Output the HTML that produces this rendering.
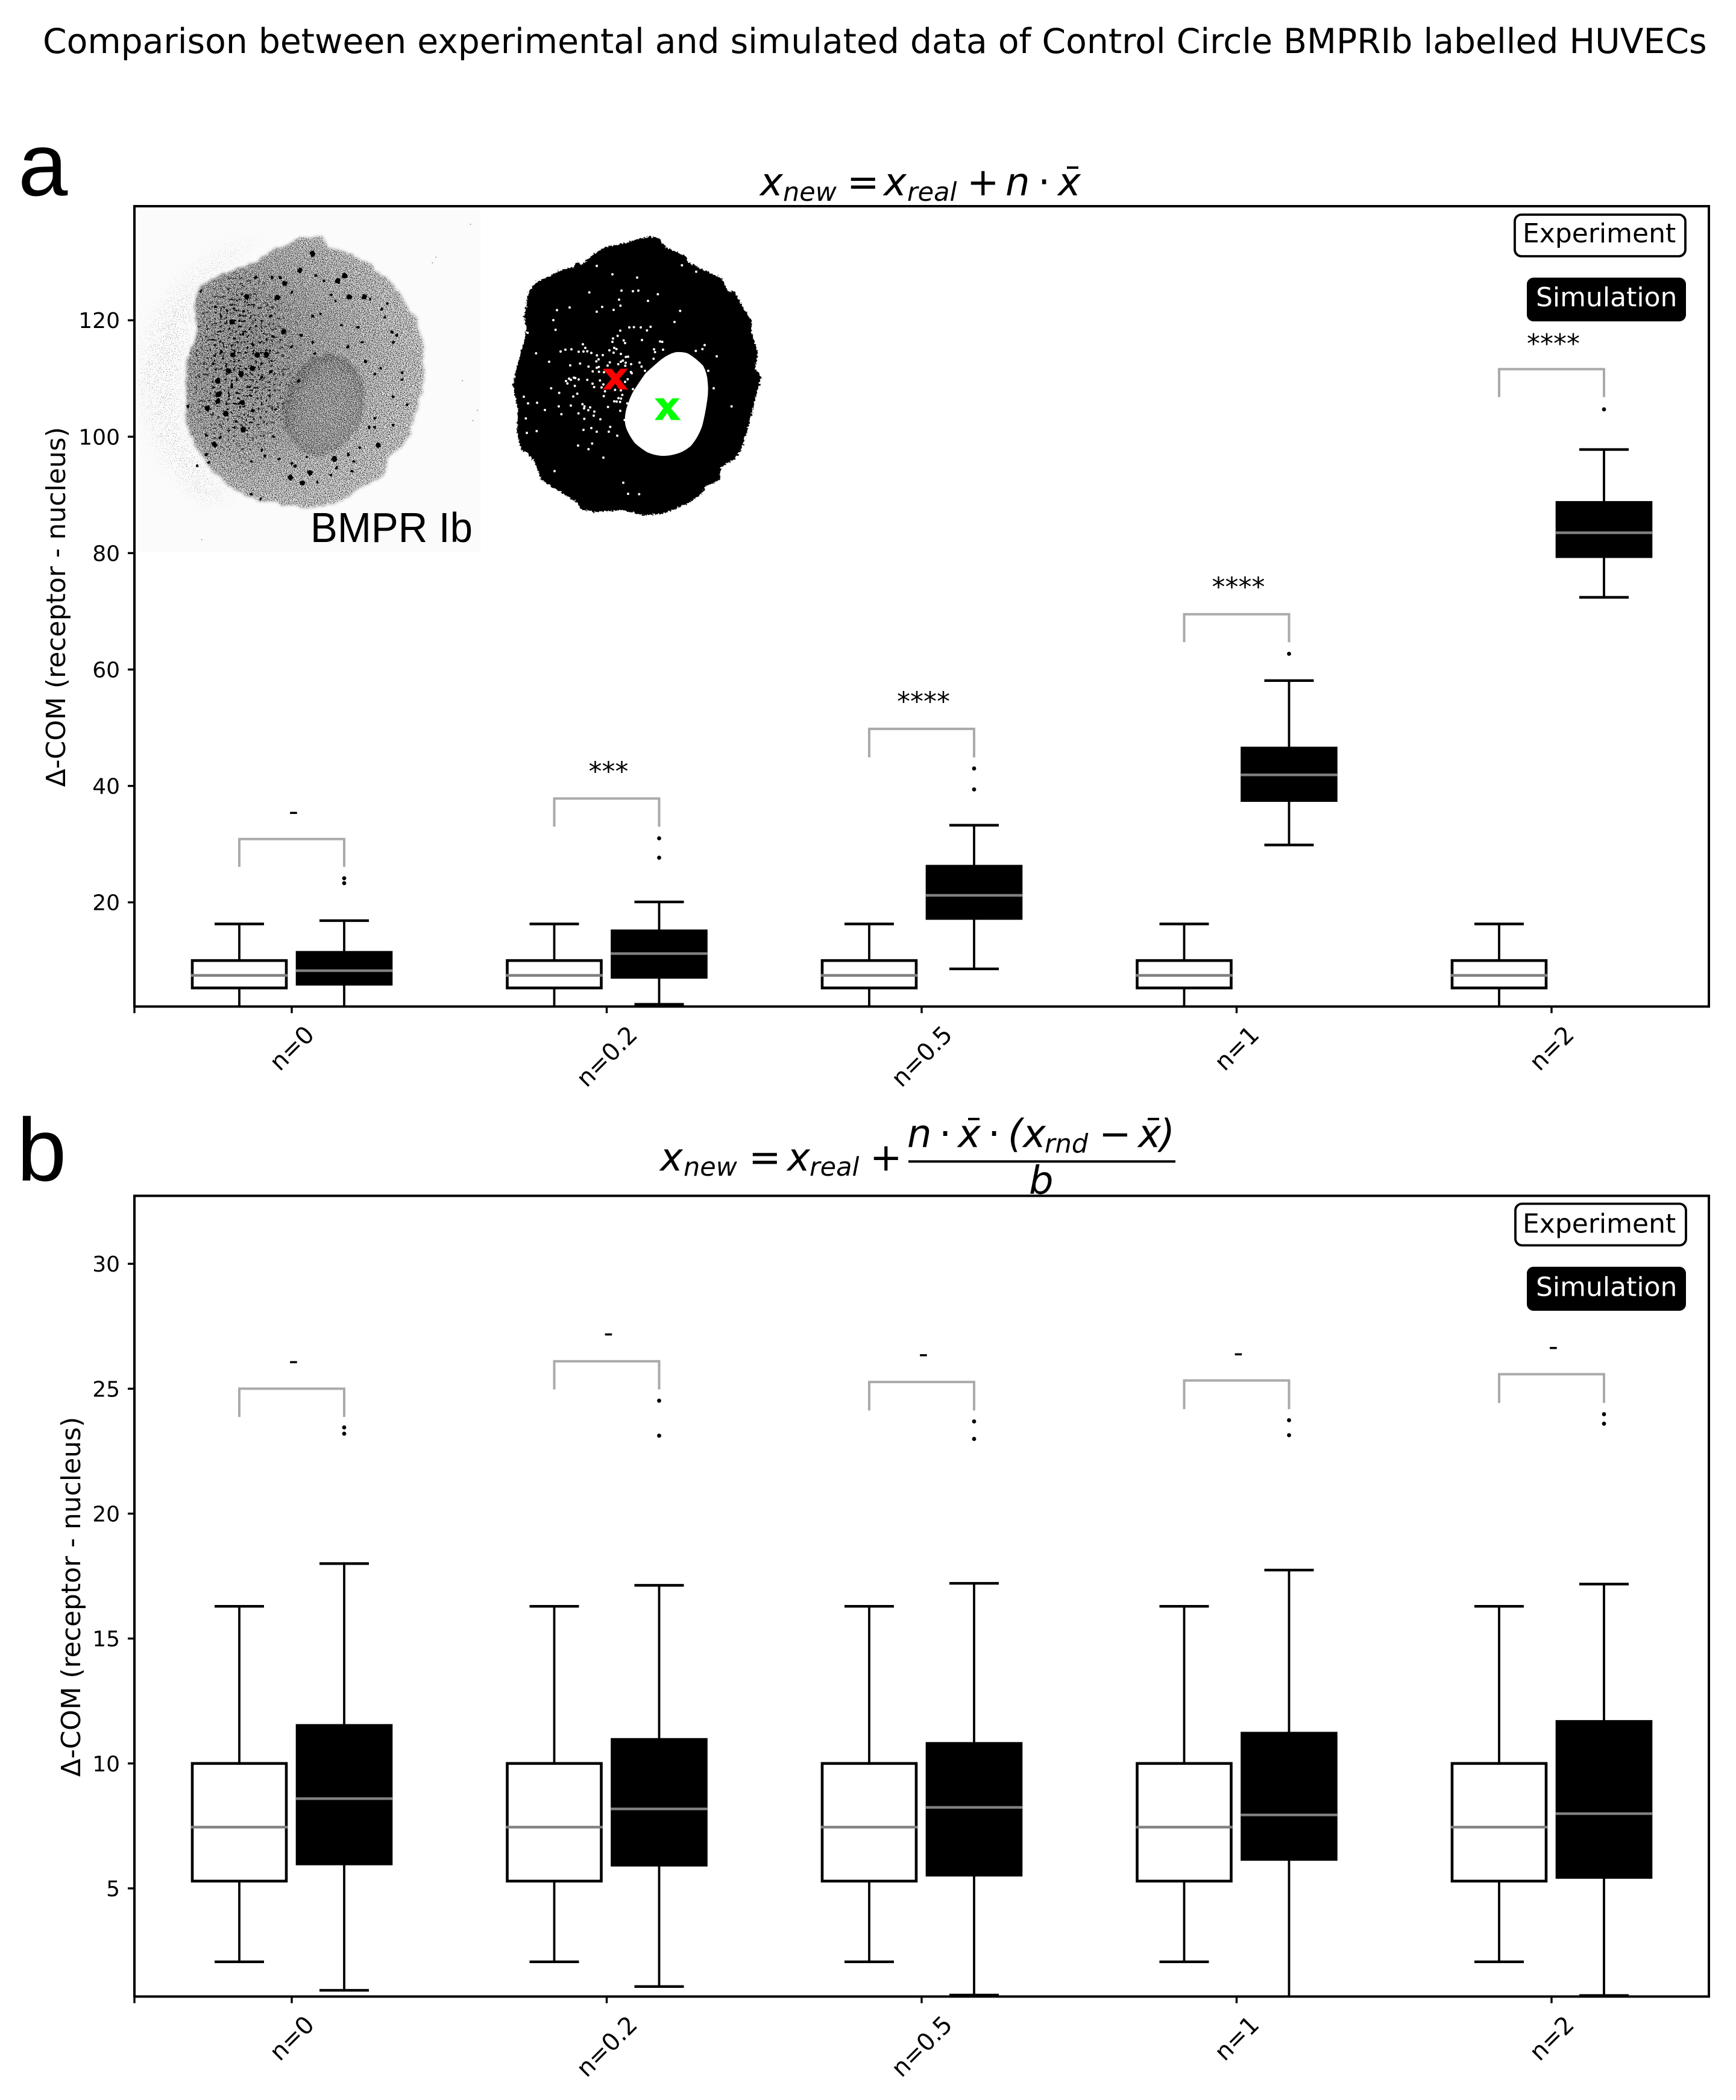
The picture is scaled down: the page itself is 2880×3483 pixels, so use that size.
<!DOCTYPE html>
<html lang="en">
<head>
<meta charset="utf-8">
<title>Comparison between experimental and simulated data</title>
<style>
html,body{margin:0;padding:0;background:#fff}
svg{display:block}
text{font-family:"DejaVu Sans","Liberation Sans",sans-serif;fill:#000}
.m{font-style:italic;font-size:64px}
.s{font-style:italic;font-size:43px}
.r{font-size:64px}
.lg{font-size:44px}
</style>
</head>
<body>
<svg id="figure" xmlns="http://www.w3.org/2000/svg" width="2880" height="3483" viewBox="0 0 2880 3483">
<defs>
<radialGradient id="cellTone" gradientUnits="userSpaceOnUse" cx="480" cy="640" r="850">
<stop offset="0" stop-color="#9c9c9c"/><stop offset="0.4" stop-color="#b8b8b8"/><stop offset="0.75" stop-color="#dedede"/><stop offset="1" stop-color="#f0f0f0"/>
</radialGradient>
<radialGradient id="nucTone" gradientUnits="objectBoundingBox" cx="0.55" cy="0.55" r="0.55">
<stop offset="0" stop-color="#b0b0b0"/><stop offset="0.7" stop-color="#a2a2a2"/><stop offset="1" stop-color="#707070"/>
</radialGradient>
<filter id="grain" x="-5%" y="-5%" width="110%" height="110%" color-interpolation-filters="sRGB">
<feTurbulence type="fractalNoise" baseFrequency="0.025" numOctaves="3" seed="7" result="w"/>
<feDisplacementMap in="SourceGraphic" in2="w" scale="26" xChannelSelector="R" yChannelSelector="G" result="shape"/>
<feGaussianBlur in="shape" stdDeviation="6" result="b"/>
<feTurbulence type="fractalNoise" baseFrequency="0.3" numOctaves="2" seed="4" result="n"/>
<feColorMatrix in="n" type="matrix" values="0 0 0 0 0  0 0 0 0 0  0 0 0 0 0  4.2 0 0 0 -1.95" result="d"/>
<feComposite in="d" in2="b" operator="in" result="dc"/>
<feColorMatrix in="n" type="matrix" values="0 0 0 0 1  0 0 0 0 1  0 0 0 0 1  0 5 0 0 -2.3" result="l"/>
<feComposite in="l" in2="b" operator="in" result="lc"/>
<feMerge><feMergeNode in="b"/><feMergeNode in="lc"/><feMergeNode in="dc"/></feMerge>
</filter>
<filter id="clumps" x="-70%" y="-70%" width="240%" height="240%" color-interpolation-filters="sRGB">
<feGaussianBlur in="SourceAlpha" stdDeviation="70" result="b"/>
<feTurbulence type="fractalNoise" baseFrequency="0.085" numOctaves="3" seed="11" result="n"/>
<feColorMatrix in="n" type="matrix" values="0 0 0 0 0  0 0 0 0 0  0 0 0 0 0  15 0 0 0 -9.3" result="d"/>
<feComposite in="d" in2="b" operator="in"/>
</filter>
<filter id="spray" x="-30%" y="-30%" width="160%" height="160%" color-interpolation-filters="sRGB">
<feGaussianBlur in="SourceAlpha" stdDeviation="40" result="b"/>
<feTurbulence type="fractalNoise" baseFrequency="0.3" numOctaves="1" seed="9" result="n"/>
<feColorMatrix in="n" type="matrix" values="0 0 0 0 0.3  0 0 0 0 0.3  0 0 0 0 0.3  14 0 0 0 -9" result="d"/>
<feComposite in="d" in2="b" operator="in"/>
</filter>
<filter id="rough" x="-5%" y="-5%" width="110%" height="110%">
<feTurbulence type="fractalNoise" baseFrequency="0.09" numOctaves="2" seed="5" result="w"/>
<feDisplacementMap in="SourceGraphic" in2="w" scale="12" xChannelSelector="R" yChannelSelector="G"/>
</filter>
<filter id="jag" x="-5%" y="-5%" width="110%" height="110%">
<feTurbulence type="fractalNoise" baseFrequency="0.1" numOctaves="3" seed="2" result="w"/>
<feDisplacementMap in="SourceGraphic" in2="w" scale="22" xChannelSelector="R" yChannelSelector="G"/>
</filter>
<clipPath id="clipA"><rect x="223" y="342" width="2612" height="1327.4"/></clipPath>
<clipPath id="clipB"><rect x="223" y="1983.4" width="2612" height="1328"/></clipPath>
<clipPath id="cellClip"><path d="M820 135L850 185L950 215L1050 280L1130 345L1190 440L1235 520L1260 630L1265 740L1240 880L1205 1000L1170 1060L1100 1130L1095 1190L1000 1240L900 1310L780 1335L640 1320L500 1290L400 1220L320 1140L270 1050L230 960L235 800L235 680L280 570L270 430L290 360L400 300L520 260L600 205L720 150Z"/></clipPath>
</defs>
<rect width="2880" height="3483" fill="#fff"/>

<text x="71" y="88" font-size="56.75">Comparison between experimental and simulated data of Control Circle BMPRⅠb labelled HUVECs</text>
<text x="30" y="324" font-size="148" style='font-family:"Liberation Sans",sans-serif'>a</text>
<text x="28" y="1958" font-size="148" style='font-family:"Liberation Sans",sans-serif'>b</text>

<!-- Panel a title -->
<g>
<text class="m" x="1261" y="324">x</text><text class="s" x="1299" y="333">new</text>
<text class="r" x="1405" y="324">=</text>
<text class="m" x="1466" y="324">x</text><text class="s" x="1505" y="333">real</text>
<text class="r" x="1604" y="324">+</text>
<text class="m" x="1668" y="324">n</text>
<text class="r" x="1722" y="324">·</text>
<text class="m" x="1755" y="324">x</text>
<rect x="1770" y="276" width="19" height="4"/>
</g>

<!-- Panel b title -->
<g>
<text class="m" x="1095" y="1941.5">x</text><text class="s" x="1134" y="1950">new</text>
<text class="r" x="1242" y="1941.5">=</text>
<text class="m" x="1306" y="1941.5">x</text><text class="s" x="1343" y="1950">real</text>
<text class="r" x="1443" y="1941.5">+</text>
<text class="m" x="1505" y="1902.3">n</text>
<text class="r" x="1558" y="1902.3">·</text>
<text class="m" x="1589" y="1902.3">x</text><rect x="1606" y="1854" width="19" height="4"/>
<text class="r" x="1639" y="1902.3">·</text>
<text class="m" x="1672" y="1902.3">(</text>
<text class="m" x="1697" y="1902.3">x</text><text class="s" x="1733" y="1911.5">rnd</text>
<text class="r" x="1823" y="1902.3">−</text>
<text class="m" x="1888" y="1902.3">x</text><rect x="1904" y="1854" width="19" height="4"/>
<text class="m" x="1924" y="1902.3">)</text>
<rect x="1507" y="1924.4" width="443" height="4"/>
<text class="m" x="1707" y="1980">b</text>
</g>

<!-- Microscopy inset -->
<svg x="220" y="340" width="600" height="590" viewBox="0 0 1568 1568" preserveAspectRatio="none">
<rect x="22" y="22" width="1486" height="1508" fill="#fbfbfb"/>
<path filter="url(#spray)" fill="#000" d="M40 760Q60 330 560 130L420 260L280 360L250 560L215 760L220 1000L300 1130L420 1300L300 1300Q60 1100 40 760Z"/>
<g filter="url(#grain)">
<path fill="url(#cellTone)" d="M820 135L850 185L950 215L1050 280L1130 345L1190 440L1235 520L1260 630L1265 740L1240 880L1205 1000L1170 1060L1100 1130L1095 1190L1000 1240L900 1310L780 1335L640 1320L500 1290L400 1220L320 1140L270 1050L230 960L235 800L235 680L280 570L270 430L290 360L400 300L520 260L600 205L720 150Z"/>
<ellipse cx="830" cy="880" rx="172" ry="226" transform="rotate(14 830 880)" fill="url(#nucTone)"/>
</g>
<g clip-path="url(#cellClip)">
<ellipse filter="url(#clumps)" cx="470" cy="700" rx="210" ry="400" fill="#000"/>
</g>
<g filter="url(#rough)">
<path fill="none" stroke="#000" stroke-width="24" stroke-linecap="round" d="M725 288h0M660 345h0M890 335h0M920 312h0M495 405h0M628 408h0M940 405h0M1005 405h0M655 560h0M540 660h0M520 720h0M475 870h0M370 775h0M372 835h0M370 865h0M405 920h0M325 895h0M355 1055h0M480 990h0M770 1180h0M685 1200h0M735 1225h0M875 1120h0M1065 1060h0M415 730h0M435 660h0M780 215h0M470 745h0M580 660h0M430 515h0"/>
<path fill="none" stroke="#000" stroke-width="13" stroke-linecap="round" d="M830 335h0M795 310h0M605 320h0M640 320h0M535 320h0M690 385h0M860 395h0M880 425h0M1030 415h0M1105 435h0M1080 460h0M1095 495h0M410 465h0M440 455h0M295 380h0M360 450h0M480 470h0M600 490h0M780 490h0M815 480h0M905 530h0M975 540h0M1125 560h0M1145 575h0M1130 605h0M995 605h0M935 625h0M480 570h0M440 590h0M520 615h0M580 655h0M610 580h0M730 575h0M780 605h0M690 625h0M790 655h0M1010 690h0M1075 720h0M1050 745h0M1170 740h0M1170 770h0M1130 845h0M1190 880h0M1050 940h0M1130 970h0M1050 980h0M1025 980h0M385 645h0M350 700h0M430 800h0M510 800h0M600 735h0M720 775h0M560 760h0M620 900h0M520 905h0M450 955h0M380 1025h0M320 1015h0M610 1020h0M560 1080h0M575 1105h0M635 1120h0M690 1140h0M705 1150h0M755 1110h0M860 1190h0M885 1160h0M950 1175h0M800 1220h0M515 1275h0M555 1295h0M320 1100h0M330 1135h0M280 1150h0M240 890h0M515 1130h0M960 1130h0M935 1100h0M985 1070h0"/>
</g>
<path fill="none" stroke="#888" stroke-width="5" stroke-linecap="round" d="M1300 255h0M1465 85h0M1495 905h0M1430 775h0M1475 950h0M300 1475h0M1315 230h0"/>
</svg>
<text x="515" y="899" font-size="70" textLength="269" lengthAdjust="spacingAndGlyphs" style='font-family:"Liberation Sans",sans-serif'>BMPR Ib</text>

<!-- Binary mask inset -->
<svg x="820" y="370" width="460" height="510" viewBox="0 0 1380 1530" preserveAspectRatio="none">
<path filter="url(#jag)" fill="#000" stroke="#000" stroke-width="5" d="M775 70L815 75L855 125L950 165L960 195L1040 235L1130 275L1160 340L1195 345L1225 400L1280 490L1275 540L1295 600L1310 650L1295 720L1328 768L1300 850L1285 930L1260 1020L1225 1130L1195 1170L1125 1215L1120 1275L1050 1310L1030 1345L960 1395L850 1440L750 1452L640 1425L500 1435L430 1420L410 1385L320 1330L235 1275L205 1190L170 1145L135 1125L115 1040L120 920L105 860L95 805L130 660L150 590L165 530L150 470L175 340L210 295L300 255L340 232L390 225L415 195L440 210L490 160L545 125L590 115L660 100L700 85Z"/>
<path fill="#fff" stroke="#fff" stroke-width="10" stroke-linejoin="round" d="M905 647Q945 645 965 655Q1005 680 1035 712Q1055 750 1057 790Q1062 835 1055 880Q1045 950 1030 1008Q1010 1065 975 1105Q940 1135 900 1145Q865 1155 830 1153Q795 1150 762 1135Q730 1115 704 1092Q685 1068 670 1038Q655 1010 655 980Q655 940 670 902Q680 870 695 842Q725 795 755 752Q795 715 832 684Q870 655 905 647Z"/>
<path fill="none" stroke="#fff" stroke-width="12" stroke-linecap="round" d="M510 213h0M588 255h0M711 271h0M934 210h0M1005 242h0M473 345h0M633 336h0M690 339h0M717 336h0M814 354h0M621 381h0M765 387h0M537 417h0M628 411h0M510 441h0M594 432h0M312 433h0M375 420h0M925 437h0M294 483h0M897 492h0M305 531h0M166 546h0M672 519h0M695 518h0M729 519h0M778 516h0M760 534h0M627 535h0M614 561h0M591 574h0M588 591h0M644 584h0M651 597h0M735 582h0M825 589h0M836 591h0M795 628h0M800 642h0M840 630h0M1047 607h0M1036 627h0M1003 636h0M1107 663h0M793 675h0M441 603h0M453 621h0M330 639h0M354 630h0M384 628h0M420 640h0M444 639h0M463 638h0M483 646h0M573 633h0M597 621h0M608 627h0M594 645h0M630 651h0M511 658h0M540 657h0M655 666h0M666 665h0M208 648h0M273 690h0M519 678h0M508 688h0M575 693h0M640 684h0M630 690h0M617 702h0M654 695h0M652 710h0M681 702h0M723 694h0M733 714h0M378 708h0M427 699h0M469 714h0M510 720h0M520 716h0M564 709h0M490 738h0M521 740h0M546 742h0M680 741h0M684 747h0M750 735h0M1065 735h0M357 786h0M364 798h0M372 774h0M381 780h0M396 769h0M403 771h0M420 778h0M463 780h0M526 783h0M489 799h0M401 810h0M543 803h0M651 790h0M664 777h0M283 822h0M497 816h0M534 818h0M690 826h0M1092 822h0M323 845h0M413 849h0M393 863h0M601 830h0M630 832h0M551 837h0M545 861h0M637 855h0M147 864h0M168 897h0M213 894h0M597 887h0M609 888h0M618 871h0M631 873h0M626 890h0M321 912h0M381 908h0M439 901h0M449 912h0M447 922h0M477 917h0M566 915h0M662 897h0M1181 912h0M252 930h0M334 951h0M419 947h0M468 931h0M498 938h0M495 958h0M627 934h0M157 972h0M448 974h0M528 976h0M649 980h0M444 1029h0M483 1020h0M510 1038h0M570 1038h0M577 1014h0M162 1044h0M211 1035h0M612 1058h0M417 1107h0M487 1097h0M469 1125h0M543 1167h0M300 1234h0M642 1292h0M666 1347h0M721 1349h0"/>
<path fill="#ff0000" d="M540 725H585L605 752L628 725H665L622 775L665 828H622L602 798L578 828H540L583 775Z"/>
<path fill="#00ff00" d="M798 872H843L863 899L886 872H923L880 922L928 980H880L860 945L836 980H798L841 922Z"/>
</svg>

<g id="panelA"></g>
<g id="panelB"></g>

<!-- Legends -->
<g>
<rect x="2513" y="356" width="283" height="69" rx="11" fill="#fff" stroke="#000" stroke-width="3.8"/>
<text class="lg" x="2526" y="402">Experiment</text>
<rect x="2533" y="460.5" width="264" height="72.5" rx="11" fill="#000"/>
<text class="lg" x="2548" y="508" style="fill:#fff">Simulation</text>
</g>
<g>
<rect x="2514" y="1996.5" width="283" height="69" rx="11" fill="#fff" stroke="#000" stroke-width="3.8"/>
<text class="lg" x="2526" y="2044.6">Experiment</text>
<rect x="2533" y="2101" width="264" height="73" rx="11" fill="#000"/>
<text class="lg" x="2548" y="2149.7" style="fill:#fff">Simulation</text>
</g>
</svg>

<script>
// Shared category axis
const categories = ['n=0', 'n=0.2', 'n=0.5', 'n=1', 'n=2'];

// Experiment series (same in every category)
const expWhiskerLow = [2.06, 2.06, 2.06, 2.06, 2.06];
const expQ1 = [5.29, 5.29, 5.29, 5.29, 5.29];
const expMedian = [7.45, 7.45, 7.45, 7.45, 7.45];
const expQ3 = [10.0, 10.0, 10.0, 10.0, 10.0];
const expWhiskerHigh = [16.29, 16.29, 16.29, 16.29, 16.29];

// Panel a: simulation series
const yTicksA = [20, 40, 60, 80, 100, 120];
const simWhiskerLowA = [0.9, 2.48, 8.57, 29.86, 72.4];
const simQ1A = [5.94, 7.12, 17.24, 37.5, 79.4];
const simMedianA = [8.26, 11.2, 21.2, 41.9, 83.5];
const simQ3A = [11.4, 15.1, 26.2, 46.5, 88.7];
const simWhiskerHighA = [16.86, 20.07, 33.25, 58.1, 97.8];
const simOutliersA = [[24.14, 23.3], [31, 27.67], [43, 39.4], [62.7], [104.7]];
const bracketTopA = [30.87, 37.84, 49.8, 69.5, 111.6];
const bracketLegA = [26.09, 33.0, 44.9, 64.7, 106.8];
const sigLabelsA = ['-', '***', '****', '****', '****'];
const sigLabelYA = [35.4, 43.3, 55.3, 75.0, 116.8];

// Panel b: simulation series
const yTicksB = [5, 10, 15, 20, 25, 30];
const simWhiskerLowB = [0.92, 1.07, 0.73, 0.5, 0.71];
const simQ1B = [5.98, 5.93, 5.53, 6.16, 5.44];
const simMedianB = [8.59, 8.18, 8.24, 7.94, 7.99];
const simQ3B = [11.52, 10.96, 10.8, 11.21, 11.68];
const simWhiskerHighB = [18.0, 17.13, 17.21, 17.74, 17.18];
const simOutliersB = [[23.45, 23.2], [24.52, 23.12], [23.69, 22.99], [23.74, 23.14], [23.98, 23.6]];
const bracketTopB = [25.0, 26.1, 25.27, 25.33, 25.58];
const bracketLegB = [23.87, 24.97, 24.13, 24.18, 24.43];
const sigLabelsB = ['-', '-', '-', '-', '-'];
const sigLabelYB = [26.07, 27.18, 26.35, 26.38, 26.63];

const NS = 'http://www.w3.org/2000/svg';
function mk(tag, attrs, parent) {
  const e = document.createElementNS(NS, tag);
  for (const k in attrs) e.setAttribute(k, attrs[k]);
  parent.appendChild(e);
  return e;
}
function linear(d0, d1, r0, r1) {
  return function (v) { return r0 + (v - d0) * (r1 - r0) / (d1 - d0); };
}
const xScale = function (i) { return 484 + 522.5 * i; };
const LEFT = 223, RIGHT = 2835;

function drawBox(parent, clip, yS, cx, low, q1, med, q3, high, filled, key) {
  const g = mk('g', { 'clip-path': clip }, parent);
  
  

  const w1 = mk('line', { x1: cx, x2: cx, y1: yS(q1), y2: yS(low), stroke: '#000', 'stroke-width': 3.8 }, g);
  
  

  const w2 = mk('line', { x1: cx, x2: cx, y1: yS(q3), y2: yS(high), stroke: '#000', 'stroke-width': 3.8 }, g);
  
  

  const c1 = mk('line', { x1: cx - 41, x2: cx + 41, y1: yS(low), y2: yS(low), stroke: '#000', 'stroke-width': 4.4 }, g);
  
  

  const c2 = mk('line', { x1: cx - 41, x2: cx + 41, y1: yS(high), y2: yS(high), stroke: '#000', 'stroke-width': 4.4 }, g);
  
  

  const b = mk('rect', { x: cx - 78, y: yS(q3), width: 156, height: yS(q1) - yS(q3), fill: filled ? '#000' : '#fff', stroke: '#000', 'stroke-width': 4.6 }, g);
  
  

  const m = mk('line', { x1: cx - 80, x2: cx + 80, y1: yS(med), y2: yS(med), stroke: '#808080', 'stroke-width': 4.4 }, g);
  
  
}

function drawPanel(root, id, clip, top, bottom, domLow, domHigh, yTicks, ylabelX, simLow, simQ1, simMed, simQ3, simHigh, simOut, brTop, brLeg, sigLabels, sigY) {
  const yS = linear(domLow, domHigh, bottom, top);

  categories.forEach(function (cat, i) {
    const cx = xScale(i);
    const exX = cx - 87, siX = cx + 87;

    const br = mk('path', {
      d: 'M' + exX + ' ' + yS(brLeg[i]) + 'V' + yS(brTop[i]) + 'H' + siX + 'V' + yS(brLeg[i]),
      fill: 'none', stroke: '#aaaaaa', 'stroke-width': 4
    }, root);
    
    

    const isStar = sigLabels[i].charAt(0) === '*';
    const sg = mk('text', { x: cx + 3, y: yS(sigY[i]) + (isStar ? 22.7 : 12), 'text-anchor': 'middle', 'font-size': 44 }, root);
    sg.textContent = sigLabels[i];
    
    

    drawBox(root, clip, yS, exX, expWhiskerLow[i], expQ1[i], expMedian[i], expQ3[i], expWhiskerHigh[i], false, id + '-experiment-' + i);
    drawBox(root, clip, yS, siX, simLow[i], simQ1[i], simMed[i], simQ3[i], simHigh[i], true, id + '-simulation-' + i);

    simOut[i].forEach(function (v, k) {
      const o = mk('circle', { cx: siX, cy: yS(v), r: 3.4, fill: '#000' }, root);
      
      
    });

    const t = mk('line', { x1: cx, x2: cx, y1: bottom, y2: bottom + 11, stroke: '#000', 'stroke-width': 3.4 }, root);
    
    

    const lab = mk('text', { x: cx, y: 0, 'text-anchor': 'middle', 'font-size': 40 }, root);
    lab.textContent = cat;
    
    
    const w = lab.getComputedTextLength();
    const yc = bottom + 29 + (w + 29) * 0.7071 / 2;
    lab.setAttribute('y', yc + 14);
    lab.setAttribute('transform', 'rotate(-45 ' + cx + ' ' + yc + ')');
  });

  const lt = mk('line', { x1: LEFT, x2: LEFT, y1: bottom, y2: bottom + 11, stroke: '#000', 'stroke-width': 3.4 }, root);
  
  

  yTicks.forEach(function (v) {
    const y = yS(v);
    const t = mk('line', { x1: LEFT - 11, x2: LEFT, y1: y, y2: y, stroke: '#000', 'stroke-width': 3.4 }, root);
    
    

    const l = mk('text', { x: 199, y: y + 13, 'text-anchor': 'end', 'font-size': 36 }, root);
    l.textContent = String(v);
    
    
  });

  const yc = (top + bottom) / 2 + 1;
  const yl = mk('text', { x: ylabelX, y: yc, 'text-anchor': 'middle', 'font-size': 44, transform: 'rotate(-90 ' + ylabelX + ' ' + yc + ')' }, root);
  yl.textContent = 'Δ-COM (receptor - nucleus)';
  
  

  const frame = mk('rect', { x: LEFT, y: top, width: RIGHT - LEFT, height: bottom - top, fill: 'none', stroke: '#000', 'stroke-width': 4 }, root);
  
  
}

drawPanel(document.getElementById('panelA'), 'panel-a', 'url(#clipA)', 342, 1669.4, 2.1, 139.6, yTicksA, 108,
  simWhiskerLowA, simQ1A, simMedianA, simQ3A, simWhiskerHighA, simOutliersA, bracketTopA, bracketLegA, sigLabelsA, sigLabelYA);
drawPanel(document.getElementById('panelB'), 'panel-b', 'url(#clipB)', 1983.4, 3311.4, 0.67, 32.72, yTicksB, 133,
  simWhiskerLowB, simQ1B, simMedianB, simQ3B, simWhiskerHighB, simOutliersB, bracketTopB, bracketLegB, sigLabelsB, sigLabelYB);
</script>
</body>
</html>
